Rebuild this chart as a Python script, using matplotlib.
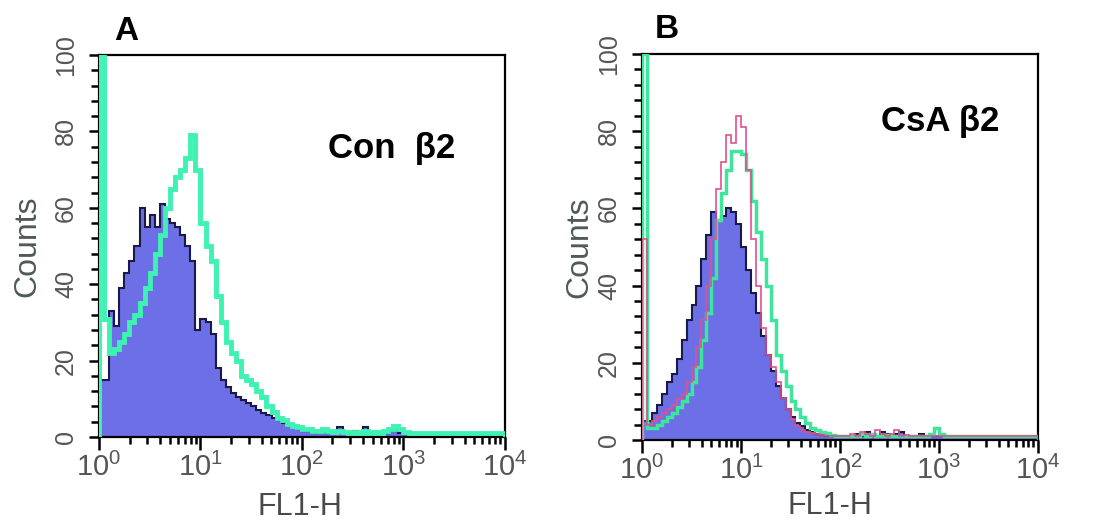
import numpy as np
import matplotlib
matplotlib.use("Agg")
import matplotlib.pyplot as plt
from matplotlib.ticker import MultipleLocator, LogLocator, NullFormatter

plt.rcParams['font.family'] = ['Liberation Sans', 'DejaVu Sans']
plt.rcParams['mathtext.fontset'] = 'custom'
plt.rcParams['mathtext.rm'] = 'Liberation Sans'
plt.rcParams['mathtext.it'] = 'Liberation Sans:italic'
plt.rcParams['mathtext.bf'] = 'Liberation Sans:bold'

# 80 log channels, 20 per decade (FL1-H 10^0 .. 10^4)
n_chan = 80
chan_per_decade = 20

# panel A: control, isotype (filled) vs beta2 (green)
a_iso = [15, 15, 33, 29, 39, 43, 46, 50, 60, 55,
         58, 55, 61, 57, 56, 55, 53, 50, 46, 28,
         31, 30, 27, 18, 15, 13, 11.5, 10.5, 9.6, 8.8,
         8, 7, 6.3, 5.7, 5, 4.4, 3.8, 3.2, 2.6, 2.1,
         1.6, 1.5, 1, 1.2, 1, 1.5, 1, 2.5, 1, 1,
         1.5, 1, 2.5, 1, 1, 1, 1, 1.5, 3, 1,
         1, 1, 1, 1, 1, 1, 1, 1, 1, 1,
         1, 1, 1, 1, 1, 1, 1, 1, 1, 1]
a_b2 = [100, 31, 22, 23, 25, 27, 30, 32, 35, 39,
        43, 48, 53, 60, 65, 68, 70, 73, 79, 70,
        56, 50, 46, 37, 30, 25, 22, 20, 16, 15,
        14, 12, 10.5, 8, 6.5, 5, 4.5, 3.5, 3, 2.5,
        2, 2, 1.5, 1.5, 2, 1.5, 1.2, 1.5, 1.2, 1,
        1.2, 1, 1.5, 1, 1.2, 1, 1.5, 2, 3, 2,
        1.2, 1, 1, 1, 1, 1, 1, 1, 1, 1,
        1, 1, 1, 1, 1, 1, 1, 1, 1, 1]

# panel B: CsA, isotype (filled), beta2 (green), second trace (pink)
b_iso = [5, 5, 7, 9, 12, 15, 17, 21, 26, 31,
         35, 40, 47, 53, 59, 57, 58, 60, 59, 56,
         50, 44, 38, 33, 27, 22, 18, 14, 11, 8,
         6, 4.5, 3.5, 2.5, 2, 1.5, 1.2, 1, 1, 1,
         1, 1, 1, 1.5, 1, 2, 1.5, 1, 2, 1.5,
         1, 1.5, 2, 1, 1, 1, 1.5, 1, 1, 1,
         1, 0.8, 0.8, 0.8, 0.8, 0.8, 0.8, 0.8, 0.8, 0.8,
         0.8, 0.8, 0.8, 0.8, 0.8, 0.8, 0.8, 0.8, 0.8, 0.8]
b_b2 = [100, 3, 3, 4, 5, 6, 7, 8.5, 10, 12,
        15, 19, 26, 33, 42, 57, 64, 70, 75, 75,
        74, 70, 62, 54, 47, 40, 31, 22, 18, 14,
        10, 8, 6, 4.5, 3, 2.5, 2, 1.7, 1.3, 1,
        1, 1, 1, 1, 1.5, 1, 1.5, 1, 1, 1.2,
        1, 1, 1, 1, 1, 1, 1, 1, 1.5, 3,
        1.5, 1, 1, 1, 1, 1, 1, 1, 1, 1,
        1, 1, 1, 1, 1, 1, 1, 1, 1, 1]
b_pink = [52, 4, 5, 6, 7, 8, 9, 10.5, 12, 15,
          19, 24, 31, 40, 52, 65, 72, 79, 77, 84,
          81, 70, 52, 40, 29, 22, 19, 15, 11, 8,
          5.5, 3.5, 2.5, 2, 1.7, 1.5, 1.2, 1, 1, 1,
          1, 1, 1.5, 1, 2, 1.5, 1, 2.5, 1.5, 1,
          1.5, 2.5, 1, 1.2, 1, 1, 1, 1, 1, 1,
          1, 1, 1, 1, 1, 1, 1, 1, 1, 1,
          1, 1, 1, 1, 1, 1, 1, 1, 1, 1]

edges = 10.0 ** (np.arange(n_chan + 1) / chan_per_decade)

fill_col = '#6c6fe6'
edge_col = '#1a1a48'
tick_col = '#555555'


def style_axis(ax):
    ax.set_xscale('log')
    ax.set_xlim(1, 1e4)
    ax.set_ylim(0, 100)
    ax.xaxis.set_major_locator(LogLocator(base=10, numticks=10))
    ax.xaxis.set_minor_locator(LogLocator(base=10, subs=np.arange(2, 10), numticks=20))
    ax.xaxis.set_minor_formatter(NullFormatter())
    ax.yaxis.set_major_locator(MultipleLocator(20))
    ax.yaxis.set_minor_locator(MultipleLocator(4))
    for s in ax.spines.values():
        s.set_linewidth(1.6)
        s.set_color('black')
    ax.tick_params(axis='y', which='major', direction='out', length=7, width=1.8,
                   labelsize=18, labelcolor=tick_col, labelrotation=90, pad=8)
    ax.tick_params(axis='y', which='minor', direction='out', length=5.5, width=1.8)
    ax.tick_params(axis='x', which='major', direction='out', length=9.5, width=1.8,
                   labelsize=21, labelcolor=tick_col, pad=2)
    ax.tick_params(axis='x', which='minor', direction='out', length=5, width=1.8)
    for lab in ax.get_yticklabels():
        lab.set_va('center')
    ax.set_ylabel('Counts', fontsize=23, color='#4f5a55')
    ax.set_xlabel('FL1-H', fontsize=22, color='#4a4a4a')


fig = plt.figure(figsize=(10.96, 5.24), dpi=100)

axA = fig.add_axes([0.0903, 0.166, 0.3704, 0.729])
axA.stairs(a_iso, edges, fill=True, color=fill_col, zorder=1)
axA.stairs(a_iso, edges, color=edge_col, lw=1.5, zorder=2)
axA.stairs(a_b2, edges, color='#3ef2b2', lw=3.5, zorder=3)
style_axis(axA)
axA.yaxis.set_label_coords(-0.14, 0.5)
axA.xaxis.set_label_coords(0.495, -0.145)
axA.text(0.72, 0.755, 'Con  β2', transform=axA.transAxes, fontsize=25,
         fontweight='bold', ha='center', va='center')

axB = fig.add_axes([0.5858, 0.1603, 0.3613, 0.7366])
axB.stairs(b_iso, edges, fill=True, color=fill_col, zorder=1)
axB.stairs(b_iso, edges, color=edge_col, lw=1.5, zorder=2)
axB.stairs(b_b2, edges, color='#3fe59a', lw=2.5, zorder=3)
axB.stairs(b_pink, edges, color='#e0508c', lw=1.2, zorder=4)
style_axis(axB)
axB.yaxis.set_label_coords(-0.12, 0.5)
axB.xaxis.set_label_coords(0.475, -0.132)
axB.text(0.752, 0.825, 'CsA β2', transform=axB.transAxes, fontsize=25,
         fontweight='bold', ha='center', va='center')

fig.text(126 / 1096, 1 - 32 / 524, 'A', fontsize=24, fontweight='bold', ha='center', va='center')
fig.text(667 / 1096, 1 - 30 / 524, 'B', fontsize=24, fontweight='bold', ha='center', va='center')

fig.savefig('out.png', dpi=100, facecolor='white')
